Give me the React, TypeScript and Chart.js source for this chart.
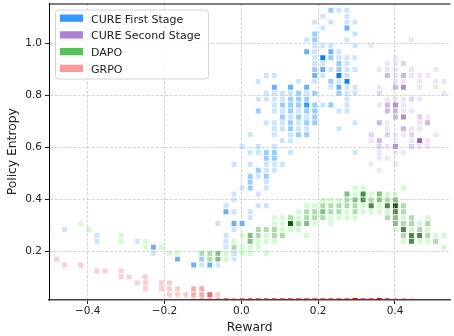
import React, { useEffect, useRef } from 'react';
import { Chart, registerables } from 'chart.js';

Chart.register(...registerables);

const FONT = "'DejaVu Sans', sans-serif";

// Axis ticks
const xTicks = [-0.4, -0.2, 0.0, 0.2, 0.4];
const yTicks = [0.2, 0.4, 0.6, 0.8, 1.0];
const xRange = [-0.5006, 0.5445];
const yRange = [0.0115, 1.155];

// Legend / series names
const seriesNames = ['CURE First Stage', 'CURE Second Stage', 'DAPO', 'GRPO'];

// 2-D histogram bin grid (bin centre = start + index * width)
const xBinStart = -0.124;
const xBinWidth = 0.021;
const yBinStart = 0.1692;
const yBinWidth = 0.02285;

// Each row: [y-bin index, [[x-bin index, density level], ...]]
type Row = [number, [number, number][]];

const cureFirstRows: Row[] = [
  [42, [[17, 2], [18, 1], [19, 1]]],
  [41, [[16, 1], [19, 1]]],
  [40, [[15, 1], [17, 1], [19, 1], [20, 1]]],
  [39, [[16, 1], [19, 3]]],
  [38, [[15, 2], [20, 1]]],
  [37, [[14, 1], [15, 2], [19, 1]]],
  [36, [[15, 1], [16, 1], [17, 1], [20, 1]]],
  [35, [[14, 3], [15, 1], [17, 3], [18, 1]]],
  [34, [[15, 1], [16, 5], [17, 2], [18, 1], [19, 1], [20, 1]]],
  [33, [[15, 1], [16, 1], [18, 2], [19, 1]]],
  [32, [[15, 2], [16, 3], [17, 1], [18, 2], [19, 1], [20, 1]]],
  [31, [[9, 1], [10, 1], [15, 3], [16, 1], [18, 5], [19, 1]]],
  [30, [[8, 1], [13, 1], [15, 1], [17, 2], [18, 1], [19, 5]]],
  [29, [[10, 3], [12, 3], [14, 3], [17, 1], [18, 3], [19, 1], [20, 1]]],
  [28, [[9, 1], [10, 1], [11, 1], [12, 1], [13, 2], [14, 1], [15, 2], [18, 2], [19, 1], [20, 1]]],
  [27, [[8, 1], [9, 1], [10, 1], [11, 1], [12, 2], [13, 2], [14, 2], [19, 1]]],
  [26, [[10, 1], [11, 2], [12, 2], [13, 2], [14, 4], [15, 2], [16, 1], [17, 2], [19, 1]]],
  [25, [[8, 2], [10, 1], [11, 1], [12, 2], [13, 1], [14, 2], [15, 2], [18, 1], [19, 1]]],
  [24, [[11, 2], [12, 1], [13, 2], [14, 1], [15, 2]]],
  [23, [[9, 1], [10, 1], [11, 1], [12, 2], [13, 1], [14, 2], [15, 2], [20, 1]]],
  [22, [[10, 1], [11, 1], [12, 2], [13, 1], [14, 1], [18, 1]]],
  [21, [[7, 1], [10, 1], [12, 1], [13, 2], [14, 2]]],
  [20, [[11, 1], [12, 1]]],
  [19, [[6, 1], [8, 1], [10, 1]]],
  [18, [[7, 1], [8, 1], [9, 2], [10, 2], [12, 1], [20, 1]]],
  [17, [[9, 2], [10, 2]]],
  [16, [[5, 1], [7, 1], [9, 1], [10, 1], [11, 1]]],
  [15, [[8, 2], [9, 1], [10, 1]]],
  [14, [[7, 2], [8, 1], [9, 2]]],
  [13, [[7, 2], [9, 1]]],
  [12, [[6, 1], [7, 2], [9, 1]]],
  [11, [[5, 1], [8, 1]]],
  [10, [[5, 1]]],
  [9, [[4, 1], [8, 1], [9, 1]]],
  [8, [[4, 3], [5, 1], [7, 1]]],
  [7, [[7, 1]]],
  [6, [[3, 1], [5, 3], [6, 3]]],
  [5, [[-16, 1], [5, 1]]],
  [4, [[-12, 1], [4, 1]]],
  [3, [[-12, 1], [-7, 1], [4, 1]]],
  [2, [[-5, 3], [4, 1]]],
  [1, [[-5, 1], [5, 1]]],
  [0, [[-2, 3], [1, 2], [5, 1]]],
  [-1, [[0, 3], [1, 1], [2, 3], [3, 1]]],
];

const cureSecondRows: Row[] = [
  [37, [[27, 1]]],
  [36, [[22, 1]]],
  [34, [[25, 1]]],
  [33, [[24, 1], [25, 1], [26, 2]]],
  [32, [[23, 1], [24, 1], [25, 1], [27, 1], [30, 1]]],
  [31, [[24, 3], [25, 1], [26, 3], [27, 1], [28, 1], [29, 1]]],
  [30, [[25, 1], [26, 1], [28, 1], [30, 1], [31, 1]]],
  [29, [[23, 1], [25, 3], [26, 4], [28, 1], [30, 1]]],
  [28, [[23, 2], [31, 1]]],
  [27, [[24, 1], [25, 1], [26, 1], [27, 2], [28, 1]]],
  [26, [[23, 1], [24, 3], [25, 4], [26, 1]]],
  [25, [[24, 3], [25, 3], [26, 1], [27, 1]]],
  [24, [[25, 3], [26, 4], [28, 2], [29, 1]]],
  [23, [[23, 3], [24, 1], [28, 1], [29, 3]]],
  [22, [[24, 1], [26, 3], [27, 1], [28, 1]]],
  [21, [[22, 2], [24, 2], [25, 1], [26, 1], [27, 2], [30, 1]]],
  [20, [[22, 1], [23, 3], [25, 1], [27, 1], [28, 5], [29, 1]]],
  [19, [[23, 2], [24, 1], [25, 4], [27, 2], [28, 1], [29, 1]]],
  [18, [[23, 1], [25, 1], [26, 1]]],
  [17, [[23, 1], [24, 1]]],
  [16, [[22, 1], [25, 1]]],
  [15, [[23, 1]]],
];

const dapoRows: Row[] = [
  [12, [[20, 1], [21, 1], [26, 1]]],
  [11, [[19, 3], [20, 1], [21, 4], [22, 1], [23, 3], [24, 1], [25, 1]]],
  [10, [[16, 1], [17, 1], [18, 1], [19, 2], [20, 3], [21, 4], [22, 2], [23, 3], [24, 2], [25, 3]]],
  [9, [[14, 1], [15, 1], [16, 2], [17, 2], [18, 2], [19, 2], [20, 2], [21, 1], [22, 4], [23, 1], [24, 4], [25, 5], [26, 2]]],
  [8, [[13, 1], [14, 2], [15, 2], [16, 3], [17, 2], [18, 2], [19, 1], [20, 2], [21, 1], [22, 1], [23, 1], [24, 1], [25, 4], [26, 2]]],
  [7, [[10, 1], [11, 1], [12, 2], [13, 1], [14, 2], [15, 2], [16, 2], [17, 1], [18, 1], [19, 1], [20, 1], [24, 2], [25, 3], [26, 1], [27, 2], [29, 1]]],
  [6, [[-14, 1], [10, 1], [11, 1], [12, 5], [13, 2], [14, 3], [15, 1], [17, 1], [25, 3], [26, 2], [27, 2], [28, 1], [29, 2]]],
  [5, [[-18, 1], [-13, 1], [8, 2], [9, 2], [10, 2], [11, 1], [12, 1], [13, 1], [25, 1], [26, 4], [27, 1], [28, 2], [29, 1]]],
  [4, [[-9, 1], [6, 1], [7, 3], [8, 2], [9, 1], [10, 2], [11, 2], [14, 1], [26, 2], [27, 4], [28, 4], [29, 2], [30, 1], [31, 1]]],
  [3, [[-9, 1], [-6, 1], [5, 1], [7, 3], [8, 1], [9, 1], [10, 1], [26, 1], [27, 4], [28, 1], [29, 1], [30, 2]]],
  [2, [[-6, 1], [-4, 1], [5, 2], [6, 1], [7, 1], [8, 1], [31, 1]]],
  [1, [[-3, 1], [-2, 1], [1, 2], [2, 2], [3, 3], [4, 1], [5, 2], [6, 1], [7, 1], [9, 1]]],
  [0, [[2, 2], [3, 3], [4, 1]]],
];

const grpoRows: Row[] = [
  [0, [[-17, 1]]],
  [-1, [[-16, 1], [-14, 1]]],
  [-2, [[-12, 1], [-11, 1], [-9, 1]]],
  [-3, [[-9, 1], [-8, 1], [-6, 1]]],
  [-4, [[-7, 1], [-6, 1], [-4, 1], [-3, 1]]],
  [-5, [[-6, 1], [-4, 1], [-3, 1], [-2, 1], [0, 2], [1, 2]]],
  [-6, [[-3, 1], [-2, 1], [-1, 1], [0, 2], [1, 2], [2, 3], [3, 1]]],
  [-7, [[0, 1], [1, 2], [2, 2], [3, 2], [4, 3], [5, 2], [6, 3], [7, 3], [8, 3], [9, 3], [10, 3], [11, 3], [12, 3], [13, 3], [14, 3], [15, 3], [16, 3], [17, 3], [18, 3], [19, 3], [20, 4], [21, 3], [22, 3], [23, 4], [24, 3], [25, 2], [26, 2], [27, 1]]],
];

// Colour ramps (style)
const bluePalette = ['#cce5ff', '#99ccff', '#66b2ff', '#3399ff', '#0080ff'];
const purplePalette = ['#f0e4fa', '#e2d0f4', '#d0b4ec', '#b48adb', '#9a62c9'];
const greenPalette = ['#ccffcc', '#a6e0a6', '#7cc27c', '#3f913f', '#006400'];
const redPalette = ['#ffcccc', '#f6abab', '#e36e6e', '#c80000'];
const legendColors = ['#3399ff', '#b080d8', '#5cbf5c', '#ff9999'];

function buildPoints(rows: Row[], palette: string[]) {
  const data: { x: number; y: number }[] = [];
  const colors: string[] = [];
  for (const [row, cells] of rows) {
    for (const [col, level] of cells) {
      data.push({ x: xBinStart + col * xBinWidth, y: yBinStart + row * yBinWidth });
      colors.push(palette[level - 1]);
    }
  }
  return { data, colors };
}

const fmt = (v: number) => {
  const a = Math.abs(v).toFixed(1);
  return v < -1e-9 ? '\u2212' + a : a;
};

const overlayPlugin = {
  id: 'overlay',
  afterDraw(chart: any) {
    const { ctx, chartArea } = chart;
    ctx.save();
    // top spine
    ctx.strokeStyle = '#000';
    ctx.lineWidth = 1;
    ctx.beginPath();
    ctx.moveTo(chartArea.left, chartArea.top + 0.5);
    ctx.lineTo(chartArea.right, chartArea.top + 0.5);
    ctx.stroke();

    // legend
    const bx = chartArea.left + 6.5;
    const by = chartArea.top + 6.5;
    const bw = 153;
    const bh = 69;
    const r = 3;
    ctx.beginPath();
    ctx.moveTo(bx + r, by);
    ctx.lineTo(bx + bw - r, by);
    ctx.arcTo(bx + bw, by, bx + bw, by + r, r);
    ctx.lineTo(bx + bw, by + bh - r);
    ctx.arcTo(bx + bw, by + bh, bx + bw - r, by + bh, r);
    ctx.lineTo(bx + r, by + bh);
    ctx.arcTo(bx, by + bh, bx, by + bh - r, r);
    ctx.lineTo(bx, by + r);
    ctx.arcTo(bx, by, bx + r, by, r);
    ctx.closePath();
    ctx.fillStyle = 'rgba(255,255,255,0.85)';
    ctx.fill();
    ctx.strokeStyle = '#d4d4d4';
    ctx.lineWidth = 1;
    ctx.stroke();

    ctx.font = `11px ${FONT}`;
    ctx.textBaseline = 'alphabetic';
    ctx.textAlign = 'left';
    seriesNames.forEach((name, i) => {
      const base = chartArea.top + 19 + i * 16.73;
      ctx.fillStyle = legendColors[i];
      ctx.fillRect(chartArea.left + 11, base - 8, 23, 7.3);
      ctx.fillStyle = '#222';
      ctx.fillText(name, chartArea.left + 42, base);
    });
    ctx.restore();
  },
};

export default function App() {
  const canvasRef = useRef<HTMLCanvasElement | null>(null);

  useEffect(() => {
    if (!canvasRef.current) return;
    const series = [
      buildPoints(cureFirstRows, bluePalette),
      buildPoints(cureSecondRows, purplePalette),
      buildPoints(dapoRows, greenPalette),
      buildPoints(grpoRows, redPalette),
    ];
    const gridStyle = {
      color: 'rgba(185,185,185,0.75)',
      lineWidth: 0.8,
      tickLength: 4,
      tickColor: '#222',
      tickWidth: 1,
      z: 1,
    };
    const chart = new Chart(canvasRef.current, {
      type: 'scatter',
      data: {
        datasets: series.map((s, i) => ({
          label: seriesNames[i],
          data: s.data,
          backgroundColor: s.colors,
          borderWidth: 0,
          pointStyle: 'rect',
          pointRadius: 3.5,
          pointHoverRadius: 3.5,
          clip: 0,
        })),
      },
      options: {
        responsive: false,
        animation: false,
        devicePixelRatio: 1,
        layout: { padding: { top: 3, left: 0, right: 0, bottom: 0 } },
        plugins: { legend: { display: false }, tooltip: { enabled: false } },
        events: [],
        scales: {
          x: {
            type: 'linear',
            min: xRange[0],
            max: xRange[1],
            afterBuildTicks: (s: any) => {
              s.ticks = xTicks.map((v) => ({ value: v }));
            },
            afterFit: (s: any) => {
              s.height = 36;
              s.paddingLeft = 0;
              s.paddingRight = 0;
            },
            ticks: {
              callback: (v: any) => fmt(Number(v)),
              font: { family: FONT, size: 10.5 },
              color: '#222',
              padding: 1,
              maxRotation: 0,
              autoSkip: false,
            },
            grid: gridStyle,
            border: { display: true, color: '#444', width: 1.5, dash: [3, 1.6], z: 1 },
            title: {
              display: true,
              text: 'Reward',
              font: { family: FONT, size: 12.3 },
              color: '#222',
              padding: { top: 0, bottom: 1 },
            },
          },
          y: {
            type: 'linear',
            min: yRange[0],
            max: yRange[1],
            afterBuildTicks: (s: any) => {
              s.ticks = yTicks.map((v) => ({ value: v }));
            },
            afterFit: (s: any) => {
              s.width = 49;
              s.paddingTop = 0;
              s.paddingBottom = 0;
            },
            ticks: {
              callback: (v: any) => fmt(Number(v)),
              font: { family: FONT, size: 10.5 },
              color: '#222',
              padding: 3,
              autoSkip: false,
            },
            grid: gridStyle,
            border: { display: true, color: '#000', width: 1, dash: [3, 1.6], z: 1 },
            title: {
              display: true,
              text: 'Policy Entropy',
              font: { family: FONT, size: 12.3 },
              color: '#222',
              padding: { top: 5.5, bottom: 0 },
            },
          },
        },
      },
      plugins: [overlayPlugin],
    } as any);
    return () => chart.destroy();
  }, []);

  return (
    <div style={{ position: 'absolute', left: 0, top: 0, width: 454, height: 336, background: '#fff' }}>
      <canvas ref={canvasRef} width={454} height={336} style={{ display: 'block' }} />
    </div>
  );
}
